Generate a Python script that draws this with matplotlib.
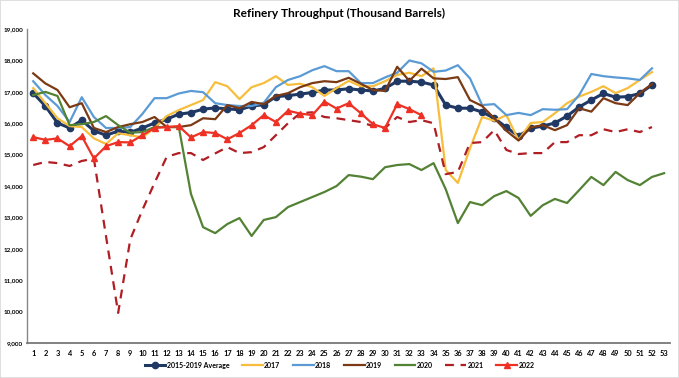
import matplotlib
matplotlib.use("Agg")
import matplotlib.pyplot as plt
from matplotlib.ticker import FuncFormatter

weeks = list(range(1, 54))

avg_15_19 = [16960, 16550, 16010, 15850, 16100, 15760, 15620, 15750, 15710, 15850,
             16010, 16130, 16290, 16340, 16450, 16490, 16460, 16430, 16550, 16590,
             16850, 16880, 16930, 16980, 17060, 17060, 17100, 17060, 17030, 17110,
             17340, 17340, 17310, 17220, 16580, 16480, 16480, 16360, 16160, 15870,
             15590, 15840, 15910, 16010, 16230, 16520, 16740, 16950, 16830, 16850,
             16950, 17220]
y2017 = [17120, 16640, 16160, 15910, 15880, 15520, 15340, 15680, 15620, 15550,
         15850, 16230, 16420, 16580, 16740, 17310, 17180, 16770, 17150, 17280,
         17500, 17220, 17260, 17150, 16870, 17120, 17350, 17180, 17180, 17340,
         17540, 17610, 17500, 17750, 14510, 14100, 15200, 16200, 16080, 16260,
         15460, 16010, 16040, 16320, 16640, 16850, 17000, 17180, 16960, 17120,
         17380, 17630]
y2018 = [17340, 16900, 16550, 16040, 16830, 16200, 15850, 15850, 15880, 16300,
         16800, 16800, 16950, 17030, 16990, 16640, 16580, 16550, 16550, 16650,
         17150, 17380, 17500, 17690, 17820, 17660, 17660, 17280, 17280, 17460,
         17610, 18000, 17910, 17640, 17680, 17850, 17430, 16580, 16610, 16260,
         16330, 16260, 16450, 16430, 16450, 16900, 17570, 17500, 17460, 17430,
         17380, 17750]
y2019 = [17590, 17270, 17060, 16510, 16640, 15850, 15720, 15880, 15970, 16040,
         16200, 15880, 15880, 15940, 16160, 16130, 16580, 16480, 16680, 16610,
         16870, 16960, 17150, 17280, 17340, 17310, 17450, 17260, 17060, 17030,
         17800, 17350, 17740, 17430, 17410, 17470, 16740, 16550, 16160, 15760,
         15450, 15870, 15940, 15780, 15940, 16480, 16370, 16800, 16640, 16580,
         16960, 17250]
y2020 = [16900, 17000, 16870, 15940, 15970, 16040, 16230, 15940, 15700, 15720,
         15880, 15880, 15880, 13750, 12690, 12500, 12790, 12980, 12410, 12920,
         13010, 13330, 13490, 13650, 13810, 14000, 14350, 14300, 14220, 14600,
         14670, 14700, 14510, 14730, 13900, 12820, 13490, 13390, 13680, 13840,
         13620, 13050, 13390, 13590, 13460, 13870, 14290, 14030, 14450, 14190,
         14030, 14290, 14410]
y2021 = [14670, 14770, 14730, 14640, 14800, 14870, 12400, 9960, 12300, 13240,
         14100, 14930, 15050, 15050, 14830, 15040, 15240, 15050, 15080, 15240,
         15620, 16000, 16320, 16350, 16200, 16160, 16100, 16040, 15910, 15850,
         16200, 16040, 16100, 16000, 14380, 14450, 15370, 15400, 15780, 15150,
         15020, 15050, 15050, 15400, 15400, 15620, 15620, 15810, 15720, 15810,
         15720, 15880]
y2022 = [15560, 15470, 15520, 15270, 15590, 14880, 15270, 15400, 15390, 15620,
         15850, 15880, 15910, 15550, 15720, 15690, 15490, 15690, 15940, 16260,
         16040, 16400, 16310, 16260, 16690, 16470, 16640, 16320, 15970, 15850,
         16610, 16450, 16260]

title = "Refinery Throughput (Thousand Barrels)"

plt.rcParams['font.family'] = ['Lato', 'DejaVu Sans']
fig = plt.figure(figsize=(6.79, 3.78), dpi=100)
ax = fig.add_axes([0.040, 0.0926, 0.947, 0.8304])

def wk(vals):
    return weeks[:len(vals)]

ax.plot(wk(avg_15_19), avg_15_19, color='#1F3864', lw=2.2, marker='o', ms=4.5,
        label='2015-2019 Average')
ax.plot(wk(y2017), y2017, color='#F6BE3C', lw=1.6, label='2017')
ax.plot(wk(y2018), y2018, color='#5B9BD5', lw=1.6, label='2018')
ax.plot(wk(y2019), y2019, color='#7B3A14', lw=1.6, label='2019')
ax.plot(wk(y2020), y2020, color='#548235', lw=1.6, label='2020')
ax.plot(wk(y2021), y2021, color='#B01E24', lw=1.6, ls=(0, (4, 3)), label='2021')
ax.plot(wk(y2022), y2022, color='#EE3124', lw=1.6, marker='^', ms=4.5,
        label='2022')

ax.set_xlim(0.5, 53.5)
ax.set_ylim(9000, 19000)
ax.set_xticks(weeks)
ax.set_yticks(range(9000, 19001, 1000))
ax.yaxis.set_major_formatter(FuncFormatter(lambda v, p: f"{int(v):,}"))
ax.tick_params(axis='x', length=0, labelsize=5.3, pad=5)
ax.tick_params(axis='y', length=0, labelsize=4.6, pad=3)
for lbl in ax.get_xticklabels() + ax.get_yticklabels():
    lbl.set_fontweight('bold')

for s in ['top', 'right']:
    ax.spines[s].set_visible(False)
ax.spines['left'].set_color('#888888')
ax.spines['left'].set_linewidth(1.0)
ax.spines['bottom'].set_color('#777777')
ax.spines['bottom'].set_linewidth(1.3)

fig.text(0.5, 0.965, title, ha='center', va='center', fontsize=8.6,
         fontweight='bold')

leg = fig.legend(loc='center', bbox_to_anchor=(0.5, 0.034), ncol=7,
                 frameon=False, fontsize=5.0, handlelength=3.0,
                 columnspacing=1.8, handletextpad=0.2)
for t in leg.get_texts():
    t.set_fontweight('bold')

fig.patches.append(plt.Rectangle((0, 0), 1, 1, transform=fig.transFigure,
                                 fill=False, edgecolor='#D9D9D9', lw=1.2))

fig.savefig('out.png', dpi=100)
